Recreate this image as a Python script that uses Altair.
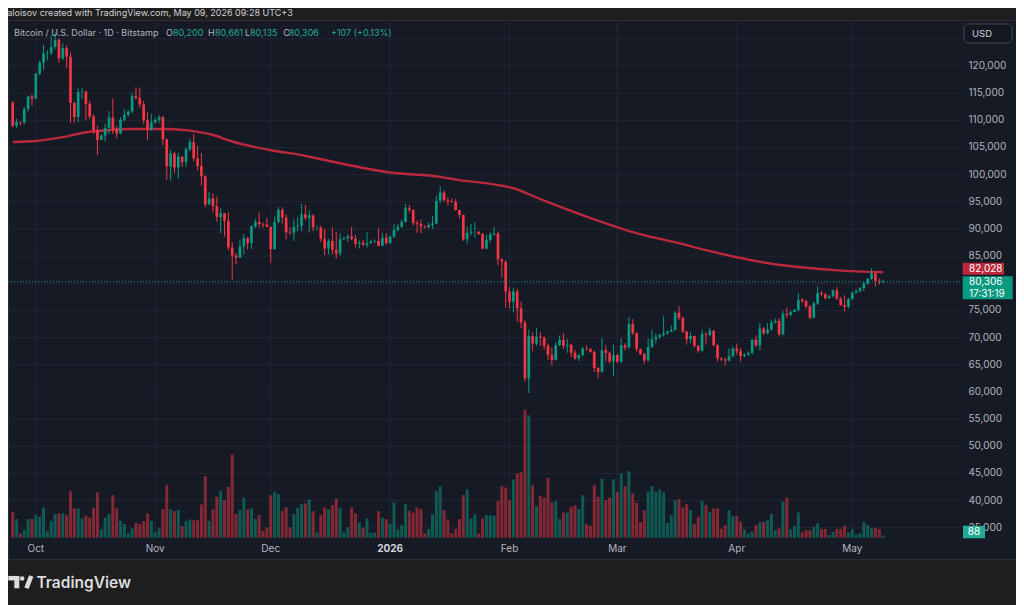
import altair as alt
import pandas as pd

# ---------------- data (prices in thousands of USD) ----------------
close_sep = [109.0, 109.7, 109.6, 112.1, 114.4, 114.0]
close_oct = [118.6, 120.6, 122.3, 122.4, 123.5, 124.8, 121.4, 123.3, 121.7, 113.2, 110.6, 115.2, 115.3, 113.0, 110.7, 108.2,
             106.4, 107.2, 108.6, 110.5, 108.4, 107.6, 110.1, 111.0, 111.6, 114.5, 114.1, 112.9, 110.0, 108.3, 109.6]
close_nov = [110.1, 110.6, 106.5, 101.5, 103.9, 101.3, 103.3, 102.3, 104.7, 106.0, 103.0, 101.6, 99.7, 94.5, 95.6, 94.2,
             92.2, 92.9, 91.5, 86.6, 85.1, 84.7, 86.8, 88.3, 87.4, 90.5, 91.3, 90.9, 90.8, 90.4]
close_dec = [86.3, 91.3, 93.5, 92.1, 89.4, 89.3, 90.4, 90.6, 92.7, 92.0, 92.5, 90.3, 90.3, 88.2, 86.4, 87.8,
             86.2, 85.5, 88.1, 88.3, 88.6, 88.2, 87.3, 87.5, 87.1, 87.4, 87.7, 87.8, 86.9, 88.4, 87.4]
close_jan = [88.6, 89.8, 90.4, 91.3, 93.8, 93.5, 91.1, 90.9, 90.5, 90.3, 90.7, 91.0, 95.2, 96.7, 95.3, 95.1,
             95.0, 93.5, 92.6, 88.1, 89.3, 89.5, 89.5, 89.1, 86.4, 88.0, 89.0, 89.2, 84.4, 84.0, 78.5]
close_feb = [76.6, 78.5, 75.4, 72.8, 62.5, 70.3, 68.9, 70.2, 70.0, 68.5, 66.8, 65.9, 68.6, 69.6, 68.5, 68.7,
             67.2, 66.2, 66.8, 68.0, 67.9, 67.4, 64.4, 63.7, 67.7, 67.2, 65.6, 66.8]
close_mar = [65.6, 68.6, 68.2, 72.5, 70.8, 67.9, 67.0, 65.8, 68.3, 69.7, 70.1, 70.5, 70.8, 71.1, 71.4, 74.6,
             73.6, 71.1, 69.7, 70.3, 68.5, 67.6, 70.7, 70.5, 71.3, 68.6, 66.2, 66.0, 65.8, 66.6, 68.0]
close_apr = [67.5, 66.6, 66.9, 67.2, 69.6, 68.6, 71.7, 70.8, 71.5, 72.8, 73.1, 70.6, 74.4, 74.2, 74.7, 75.1,
             77.0, 76.7, 75.7, 73.7, 76.3, 78.2, 78.0, 77.3, 77.6, 78.7, 77.2, 76.0, 75.7, 77.1]
close_may = [78.3, 78.6, 79.1, 80.0, 80.8, 81.8, 80.4, 80.2, 80.306]

high_sep = [113.5, 110.3, 109.8, 112.4, 114.5, 114.8]
high_oct = [118.7, 121.0, 123.9, 122.9, 125.7, 126.2, 125.1, 124.2, 123.8, 122.5, 113.4, 115.9, 116.0, 115.5, 113.6, 111.1,
            109.0, 107.5, 109.4, 111.7, 114.0, 109.0, 110.6, 112.0, 111.9, 115.0, 116.1, 116.0, 113.6, 111.5, 111.2]
high_nov = [110.5, 111.0, 110.8, 106.6, 104.6, 104.2, 104.0, 103.4, 105.0, 106.6, 107.5, 105.3, 104.0, 99.9, 96.8, 96.6,
            96.0, 93.8, 92.9, 93.1, 87.5, 85.6, 88.0, 89.0, 88.5, 90.7, 91.9, 93.0, 91.2, 92.0]
high_dec = [90.4, 92.3, 94.1, 94.0, 92.7, 90.3, 91.8, 92.2, 94.6, 94.4, 93.5, 92.7, 90.6, 90.6, 90.0, 88.2,
            90.3, 89.5, 89.2, 88.6, 89.0, 90.4, 88.9, 87.9, 88.0, 89.4, 88.0, 88.1, 90.1, 89.3, 89.2]
high_jan = [88.8, 90.9, 91.0, 91.8, 94.6, 94.4, 93.6, 91.6, 91.8, 90.7, 91.2, 92.4, 96.1, 97.9, 97.1, 95.9,
            95.6, 95.5, 93.5, 92.6, 90.4, 91.0, 91.2, 89.6, 89.2, 88.9, 89.4, 90.4, 89.5, 84.6, 84.2]
high_feb = [79.3, 79.2, 79.0, 76.6, 73.2, 71.5, 71.0, 71.8, 71.0, 70.2, 68.9, 68.2, 69.2, 70.4, 70.8, 69.8,
            68.9, 67.7, 67.0, 68.3, 68.6, 68.1, 67.6, 64.6, 69.9, 68.6, 67.4, 68.7]
high_mar = [67.0, 69.9, 69.0, 73.8, 73.4, 71.0, 68.0, 67.2, 69.9, 71.5, 70.8, 70.7, 73.9, 71.3, 72.2, 74.8,
            75.8, 73.9, 71.3, 71.0, 70.4, 68.6, 71.5, 71.0, 71.9, 71.3, 68.8, 66.4, 66.3, 68.0, 68.4]
high_apr = [68.9, 68.1, 67.1, 67.5, 69.8, 70.4, 72.7, 71.9, 72.7, 73.3, 73.5, 73.6, 75.0, 75.5, 75.0, 75.3,
            78.2, 77.3, 77.0, 76.0, 76.6, 79.4, 78.6, 78.2, 77.9, 78.9, 79.3, 77.5, 77.8, 77.3]
high_may = [78.5, 78.9, 79.3, 80.3, 81.0, 82.8, 82.0, 80.9, 80.661]

low_sep = [108.7, 108.6, 109.1, 109.3, 111.6, 112.7]
low_oct = [113.9, 118.3, 119.3, 121.0, 122.0, 123.1, 120.6, 121.1, 119.6, 109.5, 109.6, 109.7, 113.9, 110.0, 110.2, 107.5,
           103.6, 106.4, 106.1, 107.5, 107.5, 106.7, 107.5, 109.8, 110.7, 111.3, 113.8, 112.3, 109.4, 106.4, 108.0]
low_nov = [109.4, 109.5, 105.4, 99.0, 98.9, 100.3, 99.3, 101.4, 101.4, 104.3, 102.5, 100.8, 98.0, 94.0, 94.5, 93.0,
           91.3, 89.2, 88.6, 86.1, 80.6, 83.5, 84.7, 85.3, 86.2, 86.3, 90.1, 90.2, 90.2, 90.3]
low_dec = [83.8, 86.2, 91.0, 91.0, 88.1, 88.9, 87.8, 89.6, 89.6, 91.6, 89.3, 89.6, 89.8, 87.6, 85.2, 85.3,
           85.3, 84.5, 85.1, 88.0, 87.6, 87.9, 86.6, 86.4, 86.9, 86.6, 87.3, 87.4, 86.8, 86.9, 87.1]
low_jan = [87.3, 88.3, 89.5, 90.2, 91.2, 93.0, 90.7, 89.3, 89.2, 90.1, 90.1, 90.0, 91.0, 94.7, 95.0, 94.3,
           94.8, 93.4, 91.9, 87.8, 87.3, 88.8, 88.4, 88.9, 86.2, 86.3, 87.5, 88.8, 83.3, 81.1, 75.5]
low_feb = [75.3, 74.6, 72.9, 71.8, 61.9, 59.8, 67.5, 68.5, 68.5, 67.8, 65.9, 64.9, 65.8, 68.5, 67.9, 67.2,
           66.4, 65.9, 65.7, 66.6, 67.6, 67.2, 63.7, 62.5, 63.5, 65.6, 65.3, 62.9]
low_mar = [65.3, 65.3, 67.7, 68.0, 70.5, 67.4, 66.8, 65.2, 65.6, 68.1, 68.9, 69.8, 70.2, 70.5, 71.0, 71.3,
           73.2, 70.9, 68.7, 69.0, 68.2, 67.2, 67.4, 68.7, 70.3, 68.4, 65.6, 65.7, 64.9, 65.6, 66.4]
low_apr = [66.9, 65.6, 66.4, 66.6, 66.9, 68.2, 67.6, 70.5, 70.6, 71.3, 72.6, 70.2, 70.4, 73.6, 73.9, 74.7,
           74.8, 76.4, 75.4, 73.4, 73.5, 76.0, 77.6, 77.0, 77.1, 77.4, 77.0, 75.8, 74.8, 75.4]
low_may = [76.9, 78.1, 78.3, 78.6, 79.7, 80.6, 79.4, 79.7, 80.135]

first_open = 113.3  # open of the first visible day (Sep 25, 2025)

volumes = [1040, 745, 173, 306, 745, 745, 904, 838, 1210, 266,
           665, 944, 971, 971, 904, 1862, 1170, 1170, 771, 878,
           811, 1197, 1809, 333, 798, 944, 1702, 1170, 678, 545,
           173, 372, 599, 545, 665, 971, 678, 213, 372, 1144,
           2101, 1131, 1064, 1104, 466, 665, 732, 705, 705, 1330,
           2461, 678, 1131, 1636, 1875, 1503, 2035, 3338, 944, 1104,
           1609, 1131, 1170, 745, 904, 266, 412, 1702, 1835, 1742,
           1064, 1210, 412, 944, 1197, 1343, 1370, 1530, 1064, 213,
           904, 1210, 1131, 1303, 1569, 1170, 213, 412, 1210, 971,
           612, 399, 771, 200, 213, 1064, 798, 745, 545, 1410,
           333, 505, 1343, 1077, 998, 1210, 1144, 173, 346, 944,
           1862, 2062, 1104, 732, 173, 346, 745, 1702, 1929, 771,
           931, 173, 771, 904, 904, 878, 1463, 2062, 2008, 1503,
           2328, 2567, 2633, 5121, 4894, 2101, 1264, 1676, 1596, 2394,
           1410, 1463, 745, 1011, 998, 1237, 1290, 1144, 1702, 545,
           479, 2101, 1636, 2367, 1503, 1609, 2341, 1822, 2567, 2062,
           2660, 1769, 1397, 625, 1104, 1862, 2062, 1835, 1929, 1822,
           599, 904, 1503, 1543, 1210, 1343, 1104, 545, 838, 1463,
           1303, 1037, 1170, 1170, 359, 505, 1104, 865, 865, 638,
           333, 173, 253, 505, 625, 638, 705, 944, 306, 372,
           1436, 1609, 333, 466, 1011, 226, 306, 306, 439, 572,
           346, 346, 106, 239, 346, 346, 479, 213, 333, 133,
           173, 625, 505, 386, 399, 346, 88]

# moving-average line (day index, value in thousands)
ma_day = [0, 6, 13, 19, 25, 32, 40, 46, 52, 57, 67, 75, 81, 98, 111, 116, 124, 130, 137, 147, 155, 160, 166,
          173, 180, 188, 197, 204, 216, 226]
ma_val = [106.0, 106.2, 106.9, 107.8, 108.2, 108.4, 108.4, 108.1, 107.3, 106.1, 104.5, 103.6, 102.7, 100.4, 99.6,
          99.0, 98.3, 97.5, 95.5, 92.8, 90.8, 89.6, 88.5, 87.4, 86.1, 84.8, 83.6, 83.0, 82.3, 82.028]

month_day = [6, 37, 67, 98, 129, 157, 188, 218]
month_label = ["Oct", "Nov", "Dec", "2026", "Feb", "Mar", "Apr", "May"]
price_ticks = [35000, 40000, 45000, 50000, 55000, 60000, 65000, 70000, 75000, 80000, 85000,
               90000, 95000, 100000, 105000, 110000, 115000, 120000]
grid_prices = price_ticks + [125000]
countdown = "17:31:19"

# ---------------- tables ----------------
closes = close_sep + close_oct + close_nov + close_dec + close_jan + close_feb + close_mar + close_apr + close_may
highs = high_sep + high_oct + high_nov + high_dec + high_jan + high_feb + high_mar + high_apr + high_may
lows = low_sep + low_oct + low_nov + low_dec + low_jan + low_feb + low_mar + low_apr + low_may
opens = [first_open] + closes[:-1]
n = len(closes)

df = pd.DataFrame({
    "day": list(range(n)),
    "date": pd.date_range("2025-09-25", periods=n).strftime("%Y-%m-%d"),
    "open": [round(v * 1000) for v in opens],
    "high": [round(v * 1000) for v in highs],
    "low": [round(v * 1000) for v in lows],
    "close": [round(v * 1000) for v in closes],
    "vol": volumes,
})
ma_df = pd.DataFrame({"day": ma_day, "ma": [v * 1000 for v in ma_val]})
month_df = pd.DataFrame({"day": month_day, "label": month_label})
tick_df = pd.DataFrame({"p": price_ticks})
grid_df = pd.DataFrame({"p": grid_prices})
last = df.iloc[-1]
last_ma = ma_df.iloc[-1]["ma"]

# ---------------- style ----------------
FONT = "Inter"
UP = "#089981"
DOWN = "#f23645"
MA_COL = "#b9283c"
GRID = "#232733"
TXT = "#b2b5be"
PANEL = "#161a25"
OUTER = "#1e1e1e"

X = alt.Scale(domain=[0.077, 259.21], nice=False, zero=False)
YP = alt.Scale(domain=[29259, 128467], nice=False, zero=False)
YV = alt.Scale(domain=[-852, 20710], nice=False, zero=False)
xday = alt.X("day:Q", scale=X, axis=None)
col = alt.condition("datum.close >= datum.open", alt.value(UP), alt.value(DOWN))
one = alt.Data(values=[{}])


def label(txt, x, y, size=9, color=TXT, align="left", weight="normal"):
    return alt.Chart(one).mark_text(text=txt, align=align, baseline="middle", font=FONT, fontSize=size,
                                    color=color, fontWeight=weight).encode(x=alt.value(x), y=alt.value(y))


hgrid = alt.Chart(grid_df).mark_rule(color=GRID, strokeWidth=1).encode(
    y=alt.Y("p:Q", scale=YP, axis=None), x=alt.value(0), x2=alt.value(952))
vgrid = alt.Chart(month_df).mark_rule(color=GRID, strokeWidth=1).encode(
    x=xday, y=alt.value(0), y2=alt.value(518))

vol = alt.Chart(df).mark_bar(size=3, opacity=0.5).encode(
    x=xday, y=alt.Y("vol:Q", scale=YV, axis=None), color=col)

ma = alt.Chart(ma_df).mark_line(color=MA_COL, strokeWidth=2.4, interpolate="monotone").encode(
    x=xday, y=alt.Y("ma:Q", scale=YP, axis=None))

wick = alt.Chart(df).mark_rule(strokeWidth=1).encode(
    x=xday, y=alt.Y("low:Q", scale=YP, axis=None), y2="high:Q", color=col)
body = alt.Chart(df).mark_bar(size=2.7).encode(
    x=xday, y=alt.Y("open:Q", scale=YP, axis=None), y2="close:Q", color=col)

last_df = pd.DataFrame({"p": [last["close"]], "v": [last["vol"]], "ma": [last_ma]})
pline = alt.Chart(last_df).mark_rule(color=UP, strokeDash=[1, 2], strokeWidth=1).encode(
    y=alt.Y("p:Q", scale=YP, axis=None), x=alt.value(0), x2=alt.value(952))

plabels = alt.Chart(tick_df).mark_text(align="left", baseline="middle", font=FONT, fontSize=10, color=TXT).encode(
    y=alt.Y("p:Q", scale=YP, axis=None), x=alt.value(960.5), text=alt.Text("p:Q", format=","))

mlabels = alt.Chart(month_df).transform_filter("datum.label != '2026'").mark_text(
    baseline="middle", font=FONT, fontSize=10, color=TXT).encode(x=xday, y=alt.value(529), text="label:N")
ylabel = alt.Chart(month_df).transform_filter("datum.label == '2026'").mark_text(
    baseline="middle", font=FONT, fontSize=10, color="#d1d4dc", fontWeight="bold").encode(
    x=xday, y=alt.value(529), text="label:N")

# price tags on the right scale
ma_tag = alt.Chart(last_df).mark_rule(color=MA_COL, strokeWidth=12, yOffset=-3.5).encode(
    y=alt.Y("ma:Q", scale=YP, axis=None), x=alt.value(954.7), x2=alt.value(996))
ma_tag_t = alt.Chart(last_df).mark_text(align="left", baseline="middle", font=FONT, fontSize=10,
                                        color="white", yOffset=-3.5).encode(
    y=alt.Y("ma:Q", scale=YP, axis=None), x=alt.value(961), text=alt.Text("ma:Q", format=",.0f"))
p_tag = alt.Chart(last_df).mark_rule(color=UP, strokeWidth=23, yOffset=6).encode(
    y=alt.Y("p:Q", scale=YP, axis=None), x=alt.value(954.7), x2=alt.value(1004.7))
p_tag_t = alt.Chart(last_df).mark_text(align="left", baseline="middle", font=FONT, fontSize=10,
                                       color="white", yOffset=0.5).encode(
    y=alt.Y("p:Q", scale=YP, axis=None), x=alt.value(961), text=alt.Text("p:Q", format=","))
p_tag_c = alt.Chart(last_df).mark_text(align="left", baseline="middle", font=FONT, fontSize=10,
                                       color="white", yOffset=12, text=countdown).encode(
    y=alt.Y("p:Q", scale=YP, axis=None), x=alt.value(961))
v_tag = alt.Chart(last_df).mark_rule(color="#22ab94", strokeWidth=12.5, yOffset=-3.5).encode(
    y=alt.Y("v:Q", scale=YV, axis=None), x=alt.value(955), x2=alt.value(977))
v_tag_t = alt.Chart(last_df).mark_text(align="center", baseline="middle", font=FONT, fontSize=10,
                                       color="white", yOffset=-3.5).encode(
    y=alt.Y("v:Q", scale=YV, axis=None), x=alt.value(966), text=alt.Text("v:Q", format=","))

# USD button
usd_box = alt.Chart(one).mark_rect(fill="#131722", stroke="#434651", strokeWidth=1, cornerRadius=4).encode(
    x=alt.value(956), x2=alt.value(1004), y=alt.value(4), y2=alt.value(23))
usd_t = label("USD", 964, 13.5, size=9.5, color="#d1d4dc")

# header
head = label("aloisov created with TradingView.com, May 09, 2026 09:28 UTC+3", -0.7, -7.3, size=9, color="#cfd1d6")
legend_parts = [
    label("Bitcoin / U.S. Dollar · 1D · Bitstamp", 6, 12.7),
    label("O", 158, 12.7), label(f"{last['open']:,}", 165, 12.7, color="#22ab94"),
    label("H", 200, 12.7), label(f"{last['high']:,}", 207, 12.7, color="#22ab94"),
    label("L", 237, 12.7), label(f"{last['low']:,}", 242, 12.7, color="#22ab94"),
    label("C", 275.3, 12.7), label(f"{last['close']:,}", 280.7, 12.7, color="#22ab94"),
    label("+107 (+0.13%)", 323, 12.7, color="#22ab94"),
]

# footer logo
LOGO = "#dcdcdc"
logo_parts = [
    alt.Chart(one).mark_rule(color=LOGO, strokeWidth=4.5).encode(
        x=alt.value(0.3), x2=alt.value(11.3), y=alt.value(558.2), y2=alt.value(558.2)),
    alt.Chart(one).mark_rule(color=LOGO, strokeWidth=5).encode(
        x=alt.value(8.8), x2=alt.value(8.8), y=alt.value(556), y2=alt.value(568.3)),
    alt.Chart(one).mark_circle(color=LOGO, size=20, opacity=1).encode(x=alt.value(14.2), y=alt.value(558.4)),
    alt.Chart(one).mark_rule(color=LOGO, strokeWidth=4.6).encode(
        x=alt.value(18.5), x2=alt.value(23.2), y=alt.value(568.3), y2=alt.value(556)),
    label("TradingView", 28.5, 563, size=15.5, color=LOGO, weight=600),
]

chart = alt.layer(
    hgrid, vgrid, vol, ma, wick, body, pline, plabels, mlabels, ylabel,
    ma_tag, ma_tag_t, p_tag, p_tag_t, p_tag_c, v_tag, v_tag_t, usd_box, usd_t, head,
    *legend_parts, *logo_parts
).resolve_scale(y="independent").properties(
    width=1008, height=539,
    autosize=alt.AutoSizeParams(type="none"),
    padding={"left": 0, "top": 12, "right": 0, "bottom": 46},
    background=OUTER,
    usermeta={"embedOptions": {"defaultStyle": "html,body{background:#1e1e1e;}"}},
).configure_view(fill=PANEL, stroke="#2a2e39", strokeWidth=1)

chart.save("out.html", embed_options={"renderer": "svg", "actions": False})
